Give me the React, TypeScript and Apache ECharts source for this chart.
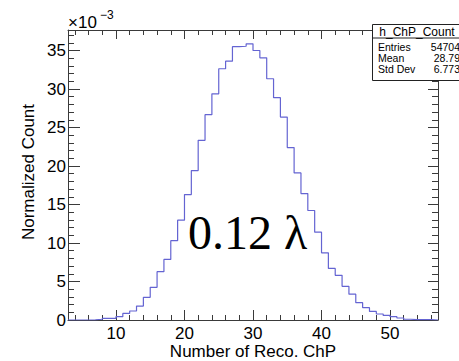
import React, { useEffect, useRef } from "react";
import * as echarts from "echarts";

// Histogram h_ChP_Count: bins of width 1, low edges 3..56 (values in units of 10^-3)
const binLowEdges = [
  3, 4, 5, 6, 7, 8, 9, 10, 11, 12, 13, 14, 15, 16, 17, 18, 19, 20, 21, 22, 23, 24, 25, 26, 27, 28, 29,
  30, 31, 32, 33, 34, 35, 36, 37, 38, 39, 40, 41, 42, 43, 44, 45, 46, 47, 48, 49, 50, 51, 52, 53, 54, 55, 56,
];
const binValues = [
  0, 0, 0, 0.02, 0.1, 0.2, 0.22, 0.43, 0.86, 1.17, 1.81, 2.94, 4.24, 6.27, 7.87, 10.3, 12.96, 16.29, 19.4,
  23.33, 26.67, 29.38, 32.63, 33.62, 35.5, 35.55, 35.87, 35.0, 34.05, 31.33, 28.87, 26.36, 22.39, 19.1, 16.42,
  14.22, 11.41, 8.73, 6.7, 5.8, 4.38, 3.35, 2.25, 1.6, 1.12, 0.78, 0.6, 0.43, 0.26, 0.1, 0.06, 0.05, 0.04, 0,
];
const binWidth = 1;

const xMajorTicks = [10, 20, 30, 40, 50];
const xMinorTicks = [4, 6, 8, 12, 14, 16, 18, 22, 24, 26, 28, 32, 34, 36, 38, 42, 44, 46, 48, 52, 54, 56];
const yMajorTicks = [0, 5, 10, 15, 20, 25, 30, 35];
const yMinorTicks = [1, 2, 3, 4, 6, 7, 8, 9, 11, 12, 13, 14, 16, 17, 18, 19, 21, 22, 23, 24, 26, 27, 28, 29, 31, 32, 33, 34, 36, 37];

const histName = "h_ChP_Count";
const statNames = ["Entries", "Mean", "Std Dev"];
const statValues = ["54704", "28.79", "6.773"];
const xTitle = "Number of Reco. ChP";
const yTitle = "Normalized Count";
const annotation = "0.12 λ";

export default function App() {
  const ref = useRef<HTMLDivElement>(null);

  useEffect(() => {
    if (!ref.current) return;
    const chart = echarts.init(ref.current, undefined, { renderer: "svg" });

    const xMin = binLowEdges[0];
    const xMax = binLowEdges[binLowEdges.length - 1] + binWidth;
    const yMax = Math.max(...binValues) * 1.05;

    const data: number[][] = binLowEdges.map((e, i) => [e, binValues[i]]);
    data.push([xMax, binValues[binValues.length - 1]]);

    const axisColor = "#3a3a3a";
    const font = "Liberation Sans";

    const xAxisBase = (position: string, ticks: number[], len: number, showLine: boolean, showLabel: boolean) => ({
      type: "value",
      min: xMin,
      max: xMax,
      position,
      axisLine: { show: showLine, onZero: false, lineStyle: { color: axisColor, width: 1 } },
      axisTick: { show: true, inside: true, length: len, customValues: ticks, lineStyle: { color: axisColor, width: 1 } },
      axisLabel: showLabel
        ? { show: true, customValues: ticks, margin: 5, color: "#000", fontFamily: font, fontSize: 17 }
        : { show: false },
      splitLine: { show: false },
    });
    const yAxisBase = (position: string, ticks: number[], len: number, showLine: boolean, showLabel: boolean) => ({
      type: "value",
      min: 0,
      max: yMax,
      position,
      axisLine: { show: showLine, onZero: false, lineStyle: { color: axisColor, width: 1 } },
      axisTick: { show: true, inside: true, length: len, customValues: ticks, lineStyle: { color: axisColor, width: 1 } },
      axisLabel: showLabel
        ? { show: true, customValues: ticks, margin: 2, color: "#000", fontFamily: font, fontSize: 17 }
        : { show: false },
      splitLine: { show: false },
    });

    const boxZ = 100;

    chart.setOption({
      animation: false,
      backgroundColor: "#fff",
      grid: { left: 68, right: 21, top: 30, bottom: 41, containLabel: false },
      xAxis: [
        xAxisBase("bottom", xMajorTicks, 10, true, true),
        xAxisBase("bottom", xMinorTicks, 5, false, false),
        xAxisBase("top", xMajorTicks, 9, true, false),
        xAxisBase("top", xMinorTicks, 5, false, false),
      ],
      yAxis: [
        yAxisBase("left", yMajorTicks, 12, true, true),
        yAxisBase("left", yMinorTicks, 6, false, false),
        yAxisBase("right", yMajorTicks, 10, true, false),
        yAxisBase("right", yMinorTicks, 6, false, false),
      ],
      series: [
        {
          type: "line",
          xAxisIndex: 0,
          yAxisIndex: 0,
          step: "end",
          symbol: "none",
          data,
          lineStyle: { color: "#6464d2", width: 1.2 },
          z: 3,
        },
      ],
      graphic: [
        {
          type: "text",
          x: 68,
          y: 22.5,
          style: { text: "×10", fontFamily: font, fontSize: 17, fill: "#000", verticalAlign: "middle", align: "left" },
        },
        {
          type: "text",
          x: 100,
          y: 15,
          style: { text: "−3", fontFamily: font, fontSize: 12, fill: "#000", verticalAlign: "middle", align: "left" },
        },
        {
          type: "text",
          x: 253,
          y: 351,
          style: { text: xTitle, fontFamily: font, fontSize: 17, fill: "#000", verticalAlign: "middle", align: "center" },
        },
        {
          type: "text",
          x: 28,
          y: 172,
          rotation: Math.PI / 2,
          style: { text: yTitle, fontFamily: font, fontSize: 17, fill: "#000", verticalAlign: "middle", align: "center" },
        },
        {
          type: "text",
          x: 188,
          y: 232,
          z: 10,
          style: { text: annotation, fontFamily: "Liberation Serif", fontSize: 48, fill: "#000", verticalAlign: "middle", align: "left" },
        },
        {
          type: "rect",
          z: boxZ,
          shape: { x: 372.5, y: 24.5, width: 100, height: 56 },
          style: { fill: "#fff", stroke: "#222", lineWidth: 1 },
        },
        {
          type: "line",
          z: boxZ + 1,
          shape: { x1: 372.5, y1: 38, x2: 472, y2: 38 },
          style: { stroke: "#222", lineWidth: 1 },
        },
        {
          type: "text",
          z: boxZ + 1,
          x: 417,
          y: 31.5,
          style: { text: histName, fontFamily: font, fontSize: 12, fill: "#000", verticalAlign: "middle", align: "center" },
        },
        ...statNames.map((n, i) => ({
          type: "text",
          z: boxZ + 1,
          x: 378,
          y: 46.5 + i * 11,
          style: { text: n, fontFamily: font, fontSize: 10.5, fill: "#000", verticalAlign: "middle", align: "left" },
        })),
        ...statValues.map((v, i) => ({
          type: "text",
          z: boxZ + 1,
          x: 460,
          y: 46.5 + i * 11,
          style: { text: v, fontFamily: font, fontSize: 10.5, fill: "#000", verticalAlign: "middle", align: "right" },
        })),
      ],
    });

    return () => chart.dispose();
  }, []);

  return <div ref={ref} style={{ position: "absolute", left: 0, top: 0, width: 459, height: 361 }} />;
}
